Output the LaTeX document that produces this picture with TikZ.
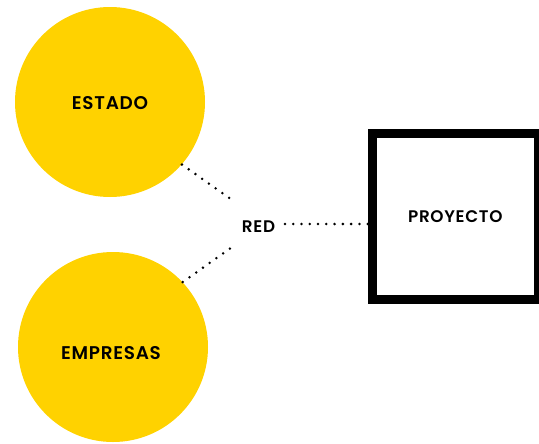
\documentclass[tikz,border=0pt]{standalone}
\usepackage{fontspec}
\setmainfont{Poppins}[UprightFont=* SemiBold]
\definecolor{sun}{RGB}{255,210,0}
\begin{document}
\begin{tikzpicture}[x=0.75pt,y=-0.75pt,
  bubble/.style={circle,fill=sun,draw=none,minimum size=142.5pt,inner sep=0pt},
  bigtag/.style={inner sep=0pt,font=\fontsize{13.8}{16}\selectfont\addfontfeatures{LetterSpace=4}},
  box/.style={draw=black,line width=6.4pt,minimum size=124.5pt,inner sep=0pt,
    font=\fontsize{12.6}{15}\selectfont\addfontfeatures{LetterSpace=4}},
  hub/.style={inner sep=0pt,font=\fontsize{12.6}{15}\selectfont\addfontfeatures{LetterSpace=4}},
  link/.style={line width=2.1pt,line cap=round,dash pattern=on 0pt off 6.2pt}]
\useasboundingbox (0,0) rectangle (539,443);
% the two actors
\node[bubble] (estado) at (110,102) {};
\node[bubble] (empresas) at (113,347) {};
\node[bigtag] (estadotxt) at (110,103) {ESTADO};
\node[bigtag] (empresastxt) at (111,353) {EMPRESAS};
% network hub and project
\node[hub] (red) at (258.5,226.3) {RED};
\node[box] (proyecto) at (455.3,216.5) {PROYECTO};
% dotted links
\coordinate (upin) at (235,202);
\coordinate (lowin) at (235,245);
\coordinate (hout) at (285,224);
\draw[link] (estado.-41) -- (upin);
\draw[link] (empresas.43) -- (lowin);
\draw[link] (hout) -- (proyecto.west |- hout);
\end{tikzpicture}
\end{document}
